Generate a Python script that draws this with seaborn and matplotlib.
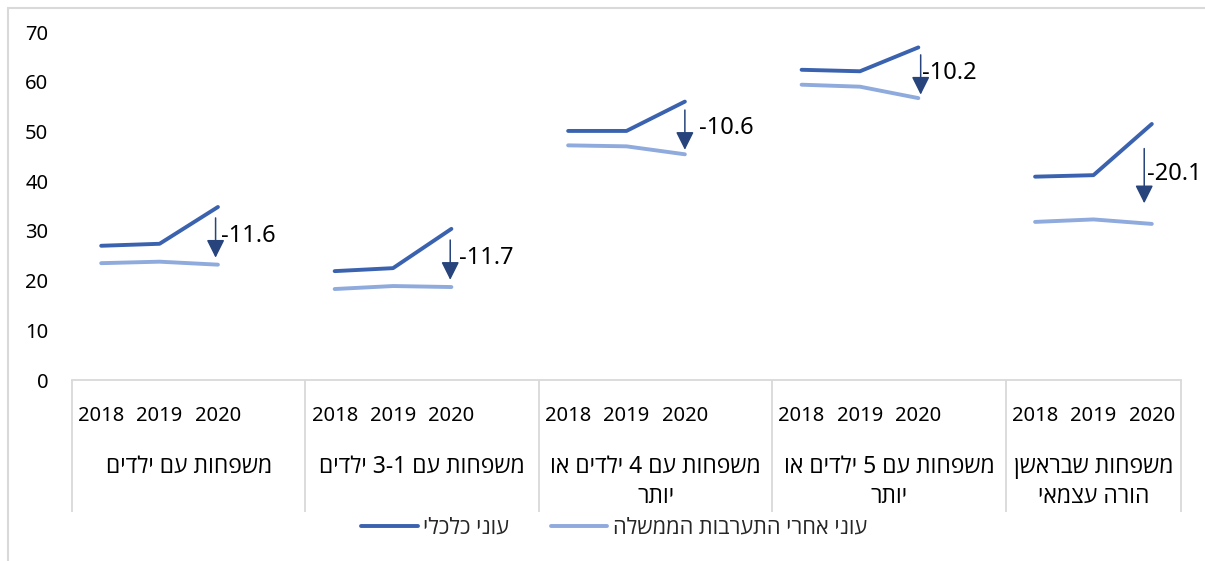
import re
import numpy as np
import pandas as pd
import matplotlib
matplotlib.use("Agg")
import matplotlib.pyplot as plt
import seaborn as sns
from matplotlib.lines import Line2D
from matplotlib.transforms import blended_transform_factory

# ---------------- data ----------------
groups = [
    "משפחות עם ילדים",
    "משפחות עם 3-1 ילדים",
    "משפחות עם 4 ילדים או\nיותר",
    "משפחות עם 5 ילדים או\nיותר",
    "משפחות שבראשן\nהורה עצמאי",
]
years = ["2018", "2019", "2020"]
series_names = ["עוני כלכלי", "עוני אחרי התערבות הממשלה"]
econ = [
    [27.0, 27.4, 34.8],
    [21.9, 22.5, 30.4],
    [50.1, 50.1, 56.0],
    [62.4, 62.1, 66.9],
    [40.9, 41.2, 51.5],
]
after = [
    [23.5, 23.8, 23.2],
    [18.3, 18.9, 18.7],
    [47.2, 47.0, 45.4],
    [59.4, 59.0, 56.7],
    [31.8, 32.3, 31.4],
]
diff_labels = ["-11.6", "-11.7", "-10.6", "-10.2", "-20.1"]
y_ticks = [0, 10, 20, 30, 40, 50, 60, 70]

# ---------------- helpers ----------------
def _vis_line(line):
    r = line[::-1]
    return re.sub(r"[0-9][0-9.\-]*[0-9]|[0-9]", lambda m: m.group(0)[::-1], r)

def vis(s):
    return "\n".join(_vis_line(l) for l in s.split("\n"))

DARK = "#3A62AE"
LIGHT = "#8FAADC"
ARROW = "#27447C"
GRID = "#D9D9D9"

sns.set_theme(style="white")
plt.rcParams["font.family"] = ["Noto Sans", "Open Sans", "Liberation Sans", "DejaVu Sans"]

# build table
rows = []
slots_per_group = 4
for g, gname in enumerate(groups):
    for j, yr in enumerate(years):
        pos = g * slots_per_group + j
        rows.append(dict(group=g, pos=pos, value=econ[g][j], series=vis(series_names[0])))
        rows.append(dict(group=g, pos=pos, value=after[g][j], series=vis(series_names[1])))
df = pd.DataFrame(rows)
n_slots = (len(groups) - 1) * slots_per_group + len(years)

W, H = 1205, 561
fig = plt.figure(figsize=(W / 100, H / 100), dpi=100)
ax = fig.add_axes([72 / W, 1 - 380 / H, 1109 / W, 348 / H])

sns.lineplot(
    data=df, x="pos", y="value", hue="series",
    hue_order=[vis(s) for s in series_names],
    palette=[DARK, LIGHT], units="group", estimator=None,
    linewidth=2.8, solid_capstyle="round", legend=False, ax=ax,
)

ax.set_xlim(-0.5, n_slots - 0.5)
ax.set_ylim(0, 70)
ax.set_xlabel("")
ax.set_ylabel("")

# ticks
ax.set_yticks(y_ticks)
ax.set_yticklabels([str(t) for t in y_ticks], fontsize=14.5, color="#000000")
tick_pos, tick_lab = [], []
for g in range(len(groups)):
    for j, yr in enumerate(years):
        tick_pos.append(g * slots_per_group + j)
        tick_lab.append(yr)
ax.set_xticks(tick_pos)
ax.set_xticklabels(tick_lab, fontsize=14.5, color="#000000")
ax.tick_params(axis="y", length=0, pad=17)
ax.tick_params(axis="x", length=0, pad=19)

for s in ["left", "top", "right"]:
    ax.spines[s].set_visible(False)
ax.spines["bottom"].set_color(GRID)
ax.spines["bottom"].set_linewidth(1.3)

trans = blended_transform_factory(ax.transData, ax.transAxes)
bounds = []
for g in range(len(groups)):
    left = g * slots_per_group - 0.5
    right = min(g * slots_per_group + slots_per_group - 0.5, n_slots - 0.5)
    bounds.append((left, right))
edges = sorted(set([b for lr in bounds for b in lr]))
for e in edges:
    ax.plot([e, e], [0, -0.379], transform=trans, color=GRID, lw=1.3,
            clip_on=False, solid_capstyle="butt")

# group labels
line_y = [-0.2500, -0.3360]
for g, gname in enumerate(groups):
    cx = (bounds[g][0] + bounds[g][1]) / 2
    for k, ln in enumerate(gname.split("\n")):
        ax.text(cx, line_y[k], vis(ln), transform=trans, ha="center",
                va="center", fontsize=16.5, color="#000000")

# arrows and difference labels
arrow_len = [8, 8, 8, 8, 11]
arrow_dx = [-0.04, -0.02, 0.0, 0.04, -0.13]
label_dx = [0.09, 0.15, 0.24, 0.02, 0.05]
for g in range(len(groups)):
    x = g * slots_per_group + 2 + arrow_dx[g]
    mid = (econ[g][2] + after[g][2]) / 2 - 0.4
    L = arrow_len[g]
    ax.annotate("", xy=(x, mid - L / 2), xytext=(x, mid + L / 2),
                arrowprops=dict(arrowstyle="-|>,head_length=1.1,head_width=0.55",
                                color=ARROW, lw=1.1, mutation_scale=10,
                                shrinkA=0, shrinkB=0),
                annotation_clip=False)
    ax.text(x + label_dx[g], mid + 0.4, diff_labels[g], ha="left", va="center",
            fontsize=17, color="#000000", clip_on=False)

# legend
handles = [Line2D([], [], color=DARK, lw=2.8, solid_capstyle="round"),
           Line2D([], [], color=LIGHT, lw=2.8, solid_capstyle="round")]
ax.legend(handles, [vis(s) for s in series_names], loc="center",
          bbox_to_anchor=(614 / W, 1 - 528 / H), bbox_transform=fig.transFigure,
          ncol=2, frameon=False, fontsize=15.7, handlelength=2.6,
          handletextpad=0.25, columnspacing=1.9)

# outer frame
fig.add_artist(Line2D([8 / W, 8 / W], [0, 1 - 8 / H], color=GRID, lw=1.5,
                      transform=fig.transFigure))
fig.add_artist(Line2D([8 / W, 1], [1 - 8 / H, 1 - 8 / H], color=GRID, lw=1.5,
                      transform=fig.transFigure))

fig.savefig("out.png", dpi=100)
